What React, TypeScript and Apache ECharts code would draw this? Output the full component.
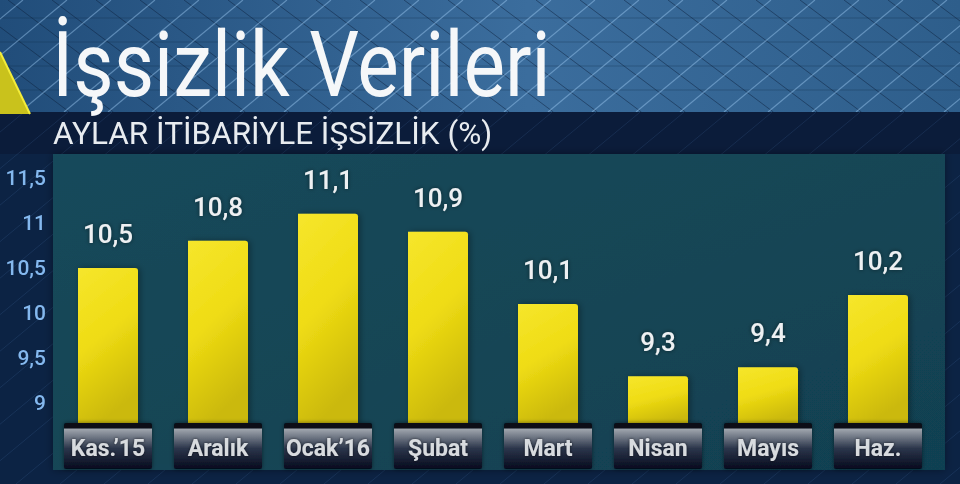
import React, { useEffect, useRef } from 'react';
import * as echarts from 'echarts';

const categories = ['Kas.’15', 'Aralık', 'Ocak’16', 'Şubat', 'Mart', 'Nisan', 'Mayıs', 'Haz.'];
const values = [10.5, 10.8, 11.1, 10.9, 10.1, 9.3, 9.4, 10.2];
const yTickLabels = [9, 9.5, 10, 10.5, 11, 11.5];
const yMin = 8.75;
const yMax = 11.75;
const yStep = 0.25;

const titleText = 'İşsizlik Verileri';
const subtitleText = 'AYLAR İTİBARİYLE İŞSİZLİK (%)';

const fmt = (v: number) => String(v).replace('.', ',');

function buildBackground(): any[] {
  const els: any[] = [];
  els.push({ type: 'rect', shape: { x: 0, y: 0, width: 960, height: 484 }, style: { fill: '#0c2344' } });
  els.push({
    type: 'rect',
    shape: { x: 0, y: 0, width: 960, height: 112 },
    style: {
      fill: new echarts.graphic.LinearGradient(0, 0, 1, 0, [
        { offset: 0, color: '#214d7a' },
        { offset: 0.55, color: '#3b6d9d' },
        { offset: 1, color: '#2e5e8b' },
      ]),
    },
  });
  for (let y = 18; y < 112; y += 24) {
    els.push({ type: 'line', silent: true, shape: { x1: 0, y1: y, x2: 960, y2: y }, style: { stroke: 'rgba(18,40,70,0.3)', lineWidth: 1 } });
  }
  for (let x = -300; x < 980; x += 44) {
    els.push({ type: 'line', silent: true, shape: { x1: x, y1: 0, x2: x + 112 / 0.75, y2: 112 }, style: { stroke: 'rgba(14,34,62,0.5)', lineWidth: 1 } });
  }
  for (let x = -200; x < 1100; x += 44) {
    els.push({ type: 'line', silent: true, shape: { x1: x, y1: 112, x2: x + 112 / 0.83, y2: 0 }, style: { stroke: 'rgba(160,205,245,0.45)', lineWidth: 1.2 } });
  }
  els.push({ type: 'rect', shape: { x: 0, y: 112, width: 960, height: 42 }, style: { fill: '#0b1c3a' } });
  for (let x = -600; x < 1100; x += 44) {
    els.push({ type: 'line', silent: true, shape: { x1: x, y1: 484, x2: x + 372 / 0.83, y2: 112 }, style: { stroke: 'rgba(100,150,210,0.14)', lineWidth: 1 } });
  }
  els.push({
    type: 'rect',
    shape: { x: 53, y: 154, width: 892, height: 316 },
    style: {
      fill: new echarts.graphic.LinearGradient(0, 0, 1, 1, [
        { offset: 0, color: 'rgba(22,76,92,0.95)' },
        { offset: 1, color: 'rgba(18,66,82,0.95)' },
      ]),
      shadowBlur: 8,
      shadowColor: 'rgba(0,0,0,0.4)',
    },
  });
  els.push({
    type: 'polygon',
    shape: { points: [[0, 52], [30, 114], [0, 114]] },
    style: { fill: '#c9c21c' },
  });
  els.push({
    type: 'line',
    shape: { x1: 0, y1: 52, x2: 30, y2: 114 },
    style: { stroke: '#f3ec3a', lineWidth: 2 },
  });
  els.push({
    type: 'text',
    x: 52,
    y: 21,
    scaleX: 0.87,
    scaleY: 1,
    style: {
      text: titleText,
      fontFamily: 'Roboto, sans-serif',
      fontSize: 90,
      fontWeight: 'normal',
      fill: '#f5f7f9',
      verticalAlign: 'top',
      align: 'left',
      shadowColor: 'rgba(0,0,0,0.45)',
      shadowBlur: 6,
      shadowOffsetY: 2,
    },
  });
  els.push({
    type: 'text',
    x: 53,
    y: 117,
    style: {
      text: subtitleText,
      fontFamily: 'Roboto, sans-serif',
      fontSize: 31.5,
      fontWeight: 'normal',
      fill: '#e8ecf0',
      verticalAlign: 'top',
      align: 'left',
    },
  });
  return els;
}

export default function App() {
  const ref = useRef<HTMLDivElement>(null);
  useEffect(() => {
    if (!ref.current) return;
    const chart = echarts.init(ref.current, undefined, { renderer: 'svg' });
    const boxGradient = new echarts.graphic.LinearGradient(0, 0, 0, 1, [
      { offset: 0, color: '#070b18' },
      { offset: 0.11, color: '#070b18' },
      { offset: 0.13, color: '#a0a6ae' },
      { offset: 0.55, color: '#2c364b' },
      { offset: 1, color: '#050a1d' },
    ]);
    const barGradient = new echarts.graphic.LinearGradient(0, 0, 0.3, 1, [
      { offset: 0, color: '#f6e62c' },
      { offset: 0.5, color: '#efdc14' },
      { offset: 1, color: '#cbb908' },
    ]);
    chart.setOption({
      animation: false,
      graphic: { elements: buildBackground() },
      grid: { left: 53, top: 155, width: 880, height: 271, containLabel: false },
      xAxis: {
        type: 'category',
        data: categories,
        z: 10,
        axisLine: { show: false },
        axisTick: { show: false },
        splitLine: { show: false },
        axisLabel: {
          margin: 11,
          color: '#d8dbdf',
          fontFamily: 'Roboto, sans-serif',
          fontWeight: 'bold',
          fontSize: 23,
          textShadowColor: 'rgba(0,0,0,0.6)',
          textShadowBlur: 3,
        },
      },
      yAxis: {
        type: 'value',
        min: yMin,
        max: yMax,
        interval: yStep,
        axisLine: { show: false },
        axisTick: { show: false },
        splitLine: { show: false },
        axisLabel: {
          margin: 7,
          color: '#84b8ee',
          fontFamily: 'Roboto, sans-serif',
          fontWeight: 500,
          fontSize: 21,
          formatter: (v: number) => (yTickLabels.indexOf(v) >= 0 ? fmt(v) : ''),
        },
      },
      series: [
        {
          type: 'bar',
          data: values,
          barWidth: 60,
          z: 2,
          itemStyle: {
            color: barGradient,
            borderRadius: [0, 3, 0, 0],
            shadowColor: 'rgba(0,0,0,0.35)',
            shadowBlur: 6,
            shadowOffsetX: 2,
          },
          label: {
            show: true,
            position: 'top',
            distance: 21,
            color: '#eef0f2',
            fontFamily: 'Roboto, sans-serif',
            fontSize: 26,
            fontWeight: 500,
            textShadowColor: 'rgba(0,0,0,0.5)',
            textShadowBlur: 4,
            formatter: (p: any) => fmt(p.value),
          },
        },
        {
          type: 'custom',
          z: 4,
          clip: false,
          silent: true,
          data: categories.map((_, i) => [i, yMin]),
          encode: { x: 0, y: 1 },
          renderItem: (_params: any, api: any) => {
            const p = api.coord([api.value(0), api.value(1)]);
            const w = 88;
            return {
              type: 'rect',
              shape: { x: p[0] - w / 2, y: p[1] - 3, width: w, height: 46, r: 2 },
              style: { fill: boxGradient, shadowColor: 'rgba(0,0,0,0.5)', shadowBlur: 4 },
            };
          },
        },
      ],
    });
    return () => chart.dispose();
  }, []);
  return <div ref={ref} style={{ position: 'fixed', left: 0, top: 0, width: 960, height: 484 }} />;
}
